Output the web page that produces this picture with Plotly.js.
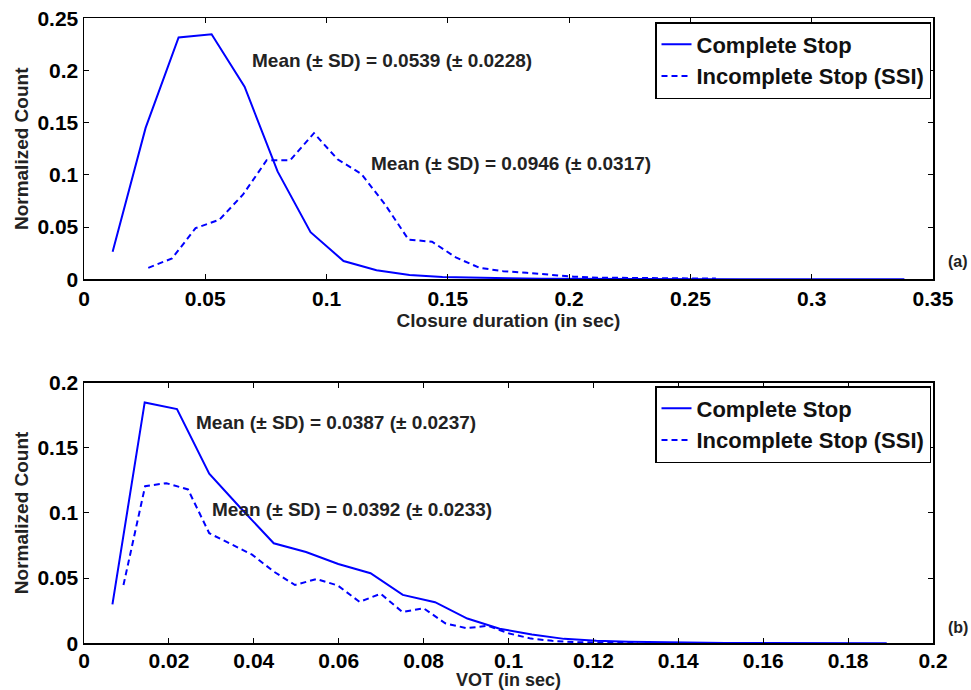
<!DOCTYPE html>
<html>
<head>
<meta charset="utf-8">
<script src="https://cdn.plot.ly/plotly-3.0.1.min.js"></script>
<style>html,body{margin:0;padding:0;background:#fff;}#chart{width:971px;height:690px;}</style>
</head>
<body>
<div id="chart"></div>
<script>
// ---- Panel (a): closure duration ----
var closureXComplete = [0.0118, 0.0254, 0.0390, 0.0526, 0.0662, 0.0798, 0.0934, 0.1070, 0.1206, 0.1342, 0.1478, 0.1614, 0.1750, 0.1886, 0.2022, 0.2158, 0.2294, 0.2430, 0.2566, 0.2702, 0.2838, 0.2974, 0.3110, 0.3246, 0.3382];
var closureYComplete = [0.0264, 0.1450, 0.2316, 0.2347, 0.1845, 0.1033, 0.0451, 0.0175, 0.0086, 0.0041, 0.0022, 0.0013, 0.0009, 0.0006, 0.0004, 0.0003, 0.0002, 0.0002, 0.0001, 0.0001, 0.0001, 0.0000, 0.0000, 0.0000, 0.0000];
var closureXIncomplete = [0.0265, 0.0363, 0.0460, 0.0558, 0.0655, 0.0753, 0.0850, 0.0948, 0.1045, 0.1143, 0.1240, 0.1338, 0.1435, 0.1533, 0.1630, 0.1728, 0.1825, 0.1923, 0.2020, 0.2118, 0.2215, 0.2313, 0.2410, 0.2508, 0.2605];
var closureYIncomplete = [0.0110, 0.0200, 0.0490, 0.0570, 0.0810, 0.1140, 0.1140, 0.1400, 0.1150, 0.1010, 0.0720, 0.0380, 0.0360, 0.0210, 0.0110, 0.0078, 0.0062, 0.0045, 0.0025, 0.0016, 0.0013, 0.0009, 0.0008, 0.0008, 0.0008];

// ---- Panel (b): VOT ----
var votXComplete = [0.0067, 0.0143, 0.0219, 0.0295, 0.0371, 0.0447, 0.0523, 0.0599, 0.0675, 0.0751, 0.0827, 0.0903, 0.0979, 0.1055, 0.1131, 0.1207, 0.1283, 0.1359, 0.1435, 0.1511, 0.1587, 0.1663, 0.1739, 0.1815, 0.1891];
var votYComplete = [0.0299, 0.1847, 0.1796, 0.1300, 0.1030, 0.0767, 0.0700, 0.0608, 0.0537, 0.0371, 0.0315, 0.0190, 0.0112, 0.0067, 0.0034, 0.0019, 0.0011, 0.0007, 0.0005, 0.0003, 0.0002, 0.0001, 0.0001, 0.0001, 0.0000];
var votXIncomplete = [0.0093, 0.0144, 0.0194, 0.0245, 0.0295, 0.0346, 0.0396, 0.0447, 0.0497, 0.0548, 0.0598, 0.0649, 0.0699, 0.0750, 0.0800, 0.0851, 0.0901, 0.0952, 0.1002, 0.1053, 0.1103, 0.1154, 0.1204, 0.1255, 0.1305];
var votYIncomplete = [0.0447, 0.1205, 0.1228, 0.1180, 0.0844, 0.0760, 0.0680, 0.0550, 0.0447, 0.0493, 0.0443, 0.0318, 0.0380, 0.0240, 0.0269, 0.0153, 0.0116, 0.0134, 0.0075, 0.0036, 0.0019, 0.0009, 0.0005, 0.0003, 0.0002];

var seriesNames = ["Complete Stop", "Incomplete Stop (SSI)"];
var closureMeans = ["Mean (± SD) = 0.0539 (± 0.0228)", "Mean (± SD) = 0.0946 (± 0.0317)"];
var votMeans = ["Mean (± SD) = 0.0387 (± 0.0237)", "Mean (± SD) = 0.0392 (± 0.0233)"];
var closureTicks = [0, 0.05, 0.1, 0.15, 0.2, 0.25, 0.3, 0.35];
var votTicks = [0, 0.02, 0.04, 0.06, 0.08, 0.1, 0.12, 0.14, 0.16, 0.18, 0.2];
var countTicksA = [0, 0.05, 0.1, 0.15, 0.2, 0.25];
var countTicksB = [0, 0.05, 0.1, 0.15, 0.2];

var FONT = "Liberation Sans, Arial, Helvetica, sans-serif";
var BLUE = "#0000ff";

var traces = [
  {x: closureXComplete, y: closureYComplete, name: seriesNames[0], type: "scatter", mode: "lines",
   line: {color: BLUE, width: 2}, xaxis: "x", yaxis: "y", legend: "legend"},
  {x: closureXIncomplete, y: closureYIncomplete, name: seriesNames[1], type: "scatter", mode: "lines",
   line: {color: BLUE, width: 2, dash: "6px,4px"}, xaxis: "x", yaxis: "y", legend: "legend"},
  {x: votXComplete, y: votYComplete, name: seriesNames[0], type: "scatter", mode: "lines",
   line: {color: BLUE, width: 2}, xaxis: "x2", yaxis: "y2", legend: "legend2"},
  {x: votXIncomplete, y: votYIncomplete, name: seriesNames[1], type: "scatter", mode: "lines",
   line: {color: BLUE, width: 2, dash: "6px,4px"}, xaxis: "x2", yaxis: "y2", legend: "legend2"}
];

var W = 971, H = 690;
function px(v){ return v / W; }
function py(v){ return 1 - v / H; }

var axisCommon = {
  showline: true, linecolor: "#000", linewidth: 1.5, mirror: "ticks",
  ticks: "inside", ticklen: 5, tickwidth: 1, tickcolor: "#000",
  showgrid: false, zeroline: false, fixedrange: true,
  tickfont: {family: FONT, size: 21, color: "#000", weight: "bold"}
};
function ax(extra){ return Object.assign({}, axisCommon, extra); }

var titleFont = {family: FONT, size: 19, color: "#222", weight: "bold"};
var titleFontB = {family: FONT, size: 18, color: "#222", weight: "bold"};
var annFont = {family: FONT, size: 19, color: "#222", weight: "bold"};
var legendFont = {family: FONT, size: 22, color: "#111", weight: "bold"};

var layout = {
  width: W, height: H,
  margin: {l: 0, r: 0, t: 0, b: 0},
  paper_bgcolor: "#fff", plot_bgcolor: "#fff",
  showlegend: true,
  xaxis: ax({domain: [px(84), px(933)], range: [0, 0.35], tickvals: closureTicks, anchor: "y",
             title: {text: "Closure duration (in sec)", font: titleFont, standoff: 0}}),
  yaxis: ax({domain: [py(279.3), py(18.3)], range: [0, 0.25], tickvals: countTicksA, anchor: "x",
             title: {text: "Normalized Count", font: titleFont, standoff: 4}}),
  xaxis2: ax({domain: [px(84), px(933)], range: [0, 0.2], tickvals: votTicks, anchor: "y2",
             ticklabelstandoff: -2,
             title: {text: "VOT (in sec)", font: titleFontB, standoff: 5}}),
  yaxis2: ax({domain: [py(643.3), py(382.5)], range: [0, 0.2], tickvals: countTicksB, anchor: "x2",
             title: {text: "Normalized Count", font: titleFont, standoff: 4}}),
  legend: {x: px(931), y: py(22), xanchor: "right", yanchor: "top", bgcolor: "#fff",
           bordercolor: "#000", borderwidth: 1.5, tracegroupgap: 0, font: legendFont},
  legend2: {x: px(931), y: py(386), xanchor: "right", yanchor: "top", bgcolor: "#fff",
           bordercolor: "#000", borderwidth: 1.5, tracegroupgap: 0, font: legendFont},
  annotations: [
    {xref: "x", yref: "y", x: 0.0684, y: 0.210, text: closureMeans[0], showarrow: false, xanchor: "left", yanchor: "middle", font: annFont},
    {xref: "x", yref: "y", x: 0.1176, y: 0.1111, text: closureMeans[1], showarrow: false, xanchor: "left", yanchor: "middle", font: annFont},
    {xref: "x2", yref: "y2", x: 0.0260, y: 0.1693, text: votMeans[0], showarrow: false, xanchor: "left", yanchor: "middle", font: annFont},
    {xref: "x2", yref: "y2", x: 0.0297, y: 0.1023, text: votMeans[1], showarrow: false, xanchor: "left", yanchor: "middle", font: annFont},
    {xref: "paper", yref: "paper", x: px(958), y: py(262), text: "(a)", showarrow: false, xanchor: "center", yanchor: "middle",
     font: {family: FONT, size: 16, color: "#222", weight: "bold"}},
    {xref: "paper", yref: "paper", x: px(958), y: py(627), text: "(b)", showarrow: false, xanchor: "center", yanchor: "middle",
     font: {family: FONT, size: 16, color: "#222", weight: "bold"}}
  ]
};

Plotly.newPlot("chart", traces, layout, {staticPlot: true, displayModeBar: false});
</script>
</body>
</html>
